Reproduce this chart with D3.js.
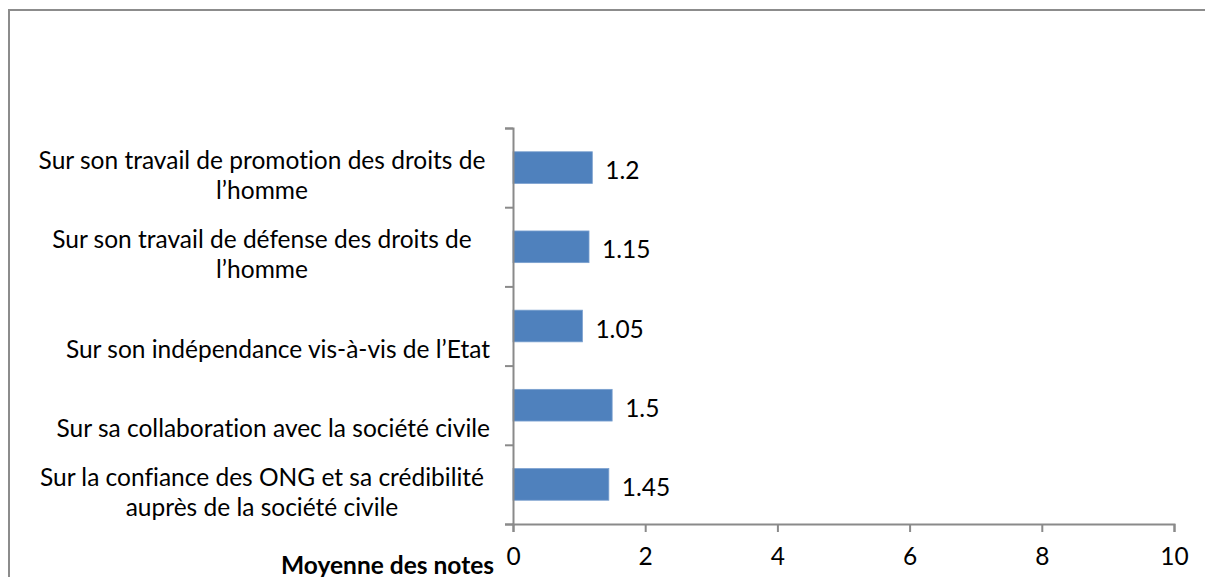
<!DOCTYPE html>
<html>
<head>
<meta charset="utf-8">
<script src="https://cdn.jsdelivr.net/npm/d3@7"></script>
<style>
  body { margin: 0; background: #fff; }
  text { font-family: Lato, "Open Sans", sans-serif; fill: #000; font-variant-ligatures: none; }
</style>
</head>
<body>
<div id="canvas"></div>
<script>
// data (top to bottom)
var categories = [
  ['Sur son travail de promotion des droits de', 'l\u2019homme'],
  ['Sur son travail de d\u00e9fense des droits de', 'l\u2019homme'],
  ['', 'Sur son ind\u00e9pendance vis-\u00e0-vis de l\u2019Etat'],
  ['', 'Sur sa collaboration avec la soci\u00e9t\u00e9 civile'],
  ['Sur la confiance des ONG et sa cr\u00e9dibilit\u00e9', 'aupr\u00e8s de la soci\u00e9t\u00e9 civile']
];
var values = [1.2, 1.15, 1.05, 1.5, 1.45];
var xTicks = [0, 2, 4, 6, 8, 10];
var axisTitle = 'Moyenne des notes';

var W = 1205, H = 577;
var m = {t:128, r:31, b:53, l:513};
var fs = '24.5px';

var svg = d3.select('#canvas')
    .append('svg')
    .attr('width', W)
    .attr('height', H);

// outer chart border (only top/left/right visible)
svg.append('rect')
    .attr('x', 9).attr('y', 10)
    .attr('width', W + 20).attr('height', H + 20)
    .style('fill', 'none')
    .style('stroke', '#8c8c8c')
    .style('stroke-width', 2);

var x = d3.scaleLinear().domain([0, 10]).range([m.l, W - m.r]);
var y = d3.scaleBand()
    .domain(d3.range(values.length))
    .range([m.t, H - m.b])
    .paddingInner(0.6)
    .paddingOuter(0.3);
// linear helper for the category boundary ticks
var yEdge = d3.scaleLinear().domain([0, values.length]).range([m.t, H - m.b]);

var gray = '#8a8a8a';

// bars
svg.selectAll('.bar')
    .data(values)
    .enter()
    .append('rect')
      .attr('class', 'bar')
      .attr('x', x(0))
      .attr('y', function(d, i){ return y(i); })
      .attr('width', function(d){ return x(d) - x(0); })
      .attr('height', y.bandwidth())
      .style('fill', '#4f81bd')
      .style('stroke', '#7aa0cf')
      .style('stroke-width', 0.8);

// value labels
svg.selectAll('.val')
    .data(values)
    .enter()
    .append('text')
      .attr('class', 'val')
      .attr('x', function(d){ return x(d) + 13; })
      .attr('y', function(d, i){ return y(i) + y.bandwidth() / 2 + 2; })
      .attr('dominant-baseline', 'central')
      .style('font-size', fs)
      .text(function(d){ return d; });

// y axis: line with ticks on category boundaries
var yAxis = svg.append('g')
    .attr('transform', 'translate(' + m.l + ',0)')
    .call(d3.axisLeft(yEdge).ticks(values.length).tickSize(8).tickFormat(''));
yAxis.select('.domain').attr('stroke', gray).attr('stroke-width', 2);
yAxis.selectAll('.tick line').attr('stroke', gray).attr('stroke-width', 2);

// x axis
var xAxis = svg.append('g')
    .attr('transform', 'translate(0,' + (H - m.b) + ')')
    .call(d3.axisBottom(x).tickValues(xTicks).tickSize(8).tickPadding(16));
xAxis.select('.domain').attr('stroke', gray).attr('stroke-width', 2);
xAxis.selectAll('.tick line').attr('stroke', gray).attr('stroke-width', 2);
xAxis.selectAll('.tick text')
    .style('font-size', fs)
    .style('font-family', 'Lato, sans-serif')
    .attr('fill', '#000');

// category labels
var labX = 262, labRight = 490;
var lab = svg.selectAll('.cat')
    .data(categories)
    .enter()
    .append('text')
      .attr('class', 'cat')
      .style('font-size', fs)
      .attr('text-anchor', function(d){ return d[0] === '' ? 'end' : 'middle'; });

lab.selectAll('tspan')
    .data(function(d, i){ return d.map(function(s, k){ return {s:s, k:k, i:i, single:d[0] === ''}; }); })
    .enter()
    .append('tspan')
      .attr('x', function(d){ return d.single ? labRight : labX; })
      .attr('y', function(d){ return y(d.i) + y.bandwidth() / 2 - 8 + d.k * 30; })
      .attr('dominant-baseline', 'central')
      .text(function(d){ return d.s; });

// axis title
svg.append('text')
    .attr('x', 494)
    .attr('y', 564)
    .attr('text-anchor', 'end')
    .attr('dominant-baseline', 'central')
    .style('font-size', fs)
    .style('font-weight', 'bold')
    .text(axisTitle);
</script>
</body>
</html>
